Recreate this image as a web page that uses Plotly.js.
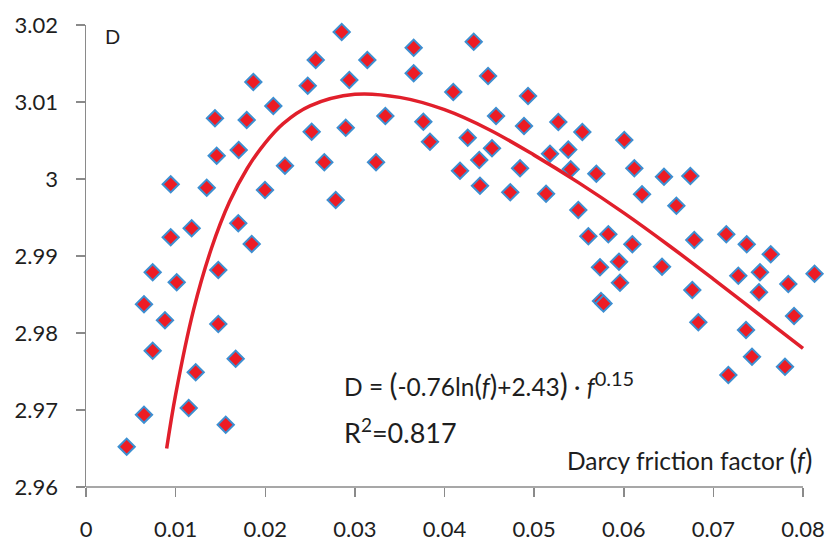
<!DOCTYPE html>
<html>
<head>
<meta charset="utf-8">
<script src="https://cdn.plot.ly/plotly-3.0.1.min.js"></script>
<style>html,body{margin:0;padding:0;background:#fff;}#chart{width:826px;height:542px;}</style>
</head>
<body>
<div id="chart"></div>
<script>
// Measured data points: Darcy friction factor f vs. D
var fValues = [
  0.00454,0.00647,0.00744,0.00647,0.00881,0.00744,0.01012,0.00945,0.00945,0.01146,
  0.01224,0.01179,0.01347,0.01476,0.01476,0.01559,0.01670,0.01439,0.01458,0.01704,
  0.01793,0.01867,0.01699,0.01849,0.01997,0.02090,0.02220,0.02474,0.02563,0.02853,
  0.02518,0.02659,0.02786,0.02938,0.02898,0.03139,0.03340,0.03236,0.03340,0.03656,
  0.03656,0.03764,0.03838,0.04098,0.04173,0.04259,0.04388,0.04396,0.04326,0.04486,
  0.04530,0.04575,0.04734,0.04843,0.04887,0.04932,0.05133,0.05177,0.05270,0.05381,
  0.05408,0.05538,0.05694,0.05493,0.05605,0.05828,0.05735,0.05947,0.05958,0.05746,
  0.05774,0.06006,0.06118,0.06096,0.06204,0.06427,0.06449,0.06587,0.06743,0.06787,
  0.06765,0.06832,0.07144,0.07278,0.07372,0.07364,0.07431,0.07520,0.07509,0.07640,
  0.07799,0.07836,0.07900,0.08129,0.07167
];
var dValues = [
  2.96523,2.96939,2.97770,2.98373,2.98165,2.98788,2.98658,2.99243,2.99931,2.97026,
  2.97490,2.99360,2.99887,2.98818,2.98117,2.96809,2.97666,3.00788,3.00303,3.00377,
  3.00766,3.01260,2.99425,2.99156,2.99857,3.00948,3.00173,3.01212,3.01545,3.01909,
  3.00614,3.00217,2.99727,3.01286,3.00666,3.01545,3.02043,3.00217,3.00818,3.01705,
  3.01373,3.00744,3.00484,3.01130,3.00108,3.00536,3.00247,2.99913,3.01783,3.01338,
  3.00399,3.00818,2.99827,3.00139,3.00688,3.01078,2.99809,3.00329,3.00740,3.00381,
  3.00126,3.00610,3.00069,2.99597,2.99256,2.99282,2.98853,2.98926,2.98653,2.98416,
  2.98383,3.00506,3.00139,2.99152,2.99801,2.98861,3.00030,2.99653,3.00039,2.99208,
  2.98558,2.98139,2.99282,2.98744,2.99152,2.98039,2.97692,2.98788,2.98529,2.99022,
  2.97562,2.98636,2.98221,2.98770,2.97455
];
// Trend line
var fitF = [0.009,0.010,0.012,0.014,0.016,0.018,0.020,0.022,0.025,0.030,0.035,0.040,0.045,0.050,0.055,0.060,0.065,0.070,0.075,0.080];
var fitD = [2.9650,2.9720,2.9830,2.9910,2.9970,3.0014,3.0047,3.0072,3.0095,3.0110,3.0106,3.0090,3.0064,3.0031,2.9995,2.9956,2.9914,2.9870,2.9825,2.9780];
// Tick labels
var xTickVals = [0,0.01,0.02,0.03,0.04,0.05,0.06,0.07,0.08];
var xTickText = ["0","0.01","0.02","0.03","0.04","0.05","0.06","0.07","0.08"];
var yTickVals = [2.96,2.97,2.98,2.99,3.00,3.01,3.02];
var yTickText = ["2.96","2.97","2.98","2.99","3","3.01","3.02"];

var FONT = "Lato, 'Open Sans', sans-serif";
var TXT = "#1e1e1e";
var AXC = "#8a8a8a";
var xMax = xTickVals[xTickVals.length - 1];

var traces = [
  {
    x: fValues, y: dValues, type: "scatter", mode: "markers", cliponaxis: false,
    marker: {symbol: "diamond", size: 12.5, color: "#ed1c24", line: {color: "#3d8fd1", width: 2}},
    hoverinfo: "x+y"
  },
  {
    x: fitF, y: fitD, type: "scatter", mode: "lines", cliponaxis: false,
    line: {color: "#e11f2b", width: 3.5, shape: "spline"},
    hoverinfo: "skip"
  }
];

var layout = {
  width: 826, height: 542,
  margin: {l: 86, r: 1, t: 25, b: 55, pad: 0},
  paper_bgcolor: "#ffffff", plot_bgcolor: "#ffffff",
  showlegend: false,
  font: {family: FONT, color: TXT},
  xaxis: {
    range: [0, xMax * 739 / 717], showgrid: false, zeroline: false,
    showline: false,
    ticks: "outside", ticklen: 9, tickwidth: 1.5, tickcolor: AXC,
    tickvals: xTickVals, ticktext: xTickText, ticklabelstandoff: 14,
    tickfont: {family: FONT, size: 22, color: TXT}
  },
  yaxis: {
    range: [2.96, 3.02], showgrid: false, zeroline: false,
    showline: true, linecolor: AXC, linewidth: 1.5,
    ticks: "outside", ticklen: 9, tickwidth: 1.5, tickcolor: AXC,
    tickvals: yTickVals, ticktext: yTickText, ticklabelstandoff: 13,
    tickfont: {family: FONT, size: 22, color: TXT}
  },
  shapes: [
    {type: "line", xref: "x", yref: "paper", x0: 0, x1: xMax, y0: 0, y1: 0,
     line: {color: AXC, width: 1.5}, layer: "below"}
  ],
  annotations: [
    {xref: "paper", yref: "paper", x: 0.0352, y: 0.976, xanchor: "center", yanchor: "middle",
     text: "D", showarrow: false, font: {family: FONT, size: 20, color: TXT}},
    {xref: "paper", yref: "paper", x: 0.346, y: 0.222, xanchor: "left", yanchor: "middle",
     text: "D = <span style='font-size:30px'>(</span>-0.76ln<span style='font-size:28px'>(</span><i>f</i><span style='font-size:28px'>)</span>+2.43<span style='font-size:30px'>)</span> · <i>f</i><sup><span style='font-size:20px'>0.15</span></sup>",
     showarrow: false, font: {family: FONT, size: 24.5, color: TXT}},
    {xref: "paper", yref: "paper", x: 0.346, y: 0.122, xanchor: "left", yanchor: "middle",
     text: "R<sup><span style='font-size:19px'>2</span></sup>=0.817", showarrow: false, font: {family: FONT, size: 27, color: TXT}},
    {xref: "paper", yref: "paper", x: 0.985, y: 0.061, xanchor: "right", yanchor: "middle",
     text: "Darcy friction factor <span style='font-size:28px'>(</span><i>f</i><span style='font-size:28px'>)</span>",
     showarrow: false, font: {family: FONT, size: 24.5, color: TXT}}
  ]
};

Plotly.newPlot("chart", traces, layout, {displayModeBar: false, staticPlot: true});
</script>
</body>
</html>
